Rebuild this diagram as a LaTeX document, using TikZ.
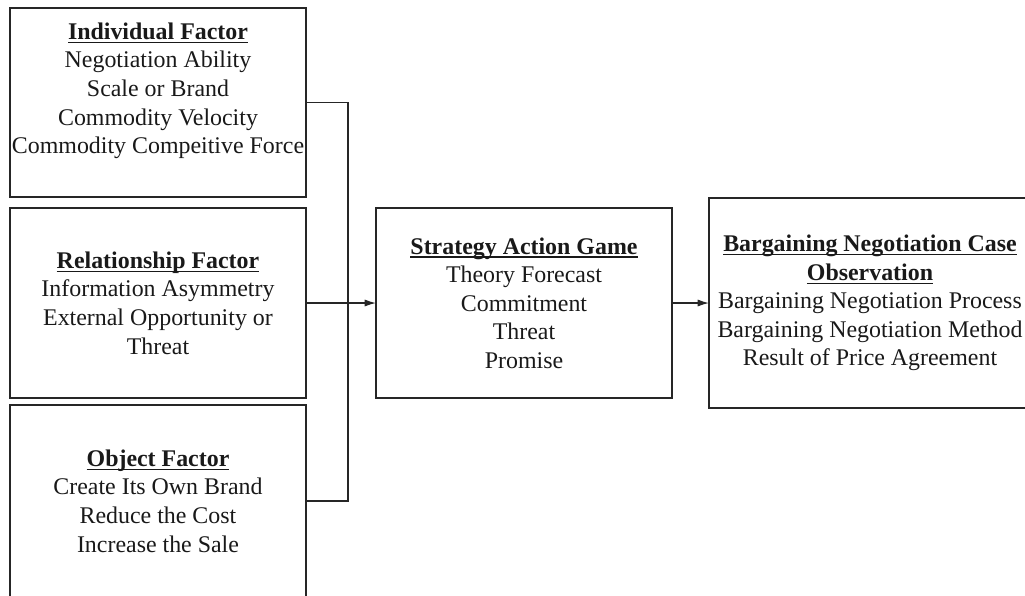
\documentclass[tikz,border=0pt]{standalone}
\usepackage{fontspec}
\setmainfont{Liberation Serif}
\usetikzlibrary{arrows.meta}
\newsavebox{\ttlbox}
\newcommand{\ttl}[1]{\sbox{\ttlbox}{\textbf{#1}}\rlap{\rule[-2.6pt]{\wd\ttlbox}{0.9pt}}\usebox{\ttlbox}}

\begin{document}
\begin{tikzpicture}[x=0.025cm,y=-0.025cm,
        >={Latex[length=8pt,width=5pt]},
        box/.style={draw=black!85,line width=0.8pt,inner sep=0pt,outer sep=0pt,
            align=center,text=black!90,font=\fontsize{17pt}{20.3pt}\selectfont},
        link/.style={draw=black!85,line width=0.8pt}]
        \useasboundingbox(0,0)rectangle(1025,595);
        \clip(0,0)rectangle(1025,595);

        \node[box,minimum width=7.4cm,minimum height=4.725cm](ind)at(158,102.5){\ttl{Individual Factor}\\Negotiation Ability\\Scale or Brand\\Commodity Velocity\\Commodity Compeitive Force\\\mbox{}};
        \node[box,minimum width=7.4cm,minimum height=4.75cm](rel)at(158,303){\ttl{Relationship Factor}\\Information Asymmetry\\External Opportunity or\\Threat};
        \node[box,minimum width=7.4cm,minimum height=4.8cm](obj)at(158,501){\ttl{Object Factor}\\Create Its Own Brand\\Reduce the Cost\\Increase the Sale};

        \node[box,minimum width=7.4cm,minimum height=4.75cm](sag)at(524,303){\ttl{Strategy Action Game}\\Theory Forecast\\Commitment\\Threat\\Promise};
        \node[box,minimum width=8.05cm,minimum height=5.25cm](bno)at(870,303){\ttl{Bargaining Negotiation Case}\\\ttl{Observation}\\Bargaining Negotiation Process\\Bargaining Negotiation Method\\Result of Price Agreement};

        \coordinate(bus)at(348,303);
        \draw[link](ind.east)-|(bus)|-(obj.east);
        \draw[link,->](rel.east)--(sag.west);
        \draw[link,->](sag.east)--(bno.west);
    \end{tikzpicture}
\end{document}
